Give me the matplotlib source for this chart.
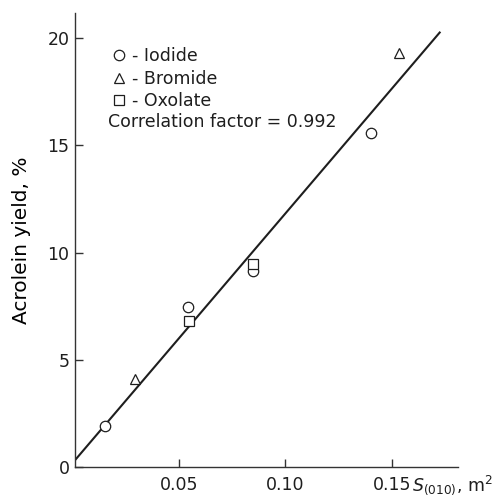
import matplotlib
matplotlib.use("Agg")
import matplotlib.pyplot as plt

plt.rcParams['font.family'] = ['DejaVu Sans']
plt.rcParams['mathtext.fontset'] = 'dejavusans'
plt.rcParams['text.color'] = '#1e1e1e'

# surface area S(010), m^2 vs acrolein yield, %
iodide_x = [0.0152, 0.0544, 0.0849, 0.1403]
iodide_y = [1.95, 7.45, 9.17, 15.57]
bromide_x = [0.0293, 0.1532]
bromide_y = [4.12, 19.29]
oxolate_x = [0.0546, 0.0849]
oxolate_y = [6.84, 9.45]

# regression line end points
fit_x = [0.0, 0.1724]
fit_y = [0.2, 20.25]
corr = 0.992

x_ticks = [0.05, 0.10, 0.15]
x_labels = ['0.05', '0.10', '0.15']
y_ticks = [0, 5, 10, 15, 20]

fig = plt.figure(figsize=(5.01, 4.97), dpi=100)
ax = fig.add_axes([0.1497, 0.0594, 0.7645, 0.9145])

ink = '#1e1e1e'
mk = dict(linestyle='none', markersize=7.5, markerfacecolor='white',
          markeredgecolor=ink, markeredgewidth=0.9, clip_on=False, zorder=3)

ax.plot(fit_x, fit_y, color=ink, lw=1.5, zorder=2)
h1, = ax.plot(iodide_x, iodide_y, marker='o', **mk)
h2, = ax.plot(bromide_x, bromide_y, marker='^', **mk)
h3, = ax.plot(oxolate_x, oxolate_y, marker='s', **mk)

ax.set_xlim(0.0012, 0.181)
ax.set_ylim(0, 21.16)
ax.set_xticks(x_ticks)
ax.set_xticklabels(x_labels)
ax.set_yticks(y_ticks)

for side in ('top', 'right'):
    ax.spines[side].set_visible(False)
for side in ('left', 'bottom'):
    ax.spines[side].set_color('#333333')
    ax.spines[side].set_linewidth(1.0)

ax.tick_params(direction='in', length=6, width=1.0, color='#333333',
               labelsize=12.5, labelcolor=ink)
ax.tick_params(axis='y', pad=4)
ax.tick_params(axis='x', pad=6)

ax.set_ylabel('Acrolein yield, %', fontsize=14.5, labelpad=12)
ax.annotate(r'$S_{\mathrm{(010)}}$, m$^{2}$', xy=(0.1595, 0),
            xycoords=ax.get_xaxis_transform(), xytext=(0, -16.7),
            textcoords='offset points', ha='left', va='baseline',
            fontsize=12.5, annotation_clip=False)

leg = ax.legend([h1, h2, h3], ['- Iodide', '- Bromide', '- Oxolate'],
                loc='upper left', bbox_to_anchor=(0.1, 0.9245),
                frameon=False, fontsize=12.5, handlelength=0.7,
                handletextpad=0.35, labelspacing=0.25, borderpad=0,
                borderaxespad=0)
ax.text(0.086, 0.7485, f'Correlation factor = {corr}', transform=ax.transAxes,
        fontsize=12.5, va='baseline', ha='left')

fig.savefig('out.png', dpi=100)
